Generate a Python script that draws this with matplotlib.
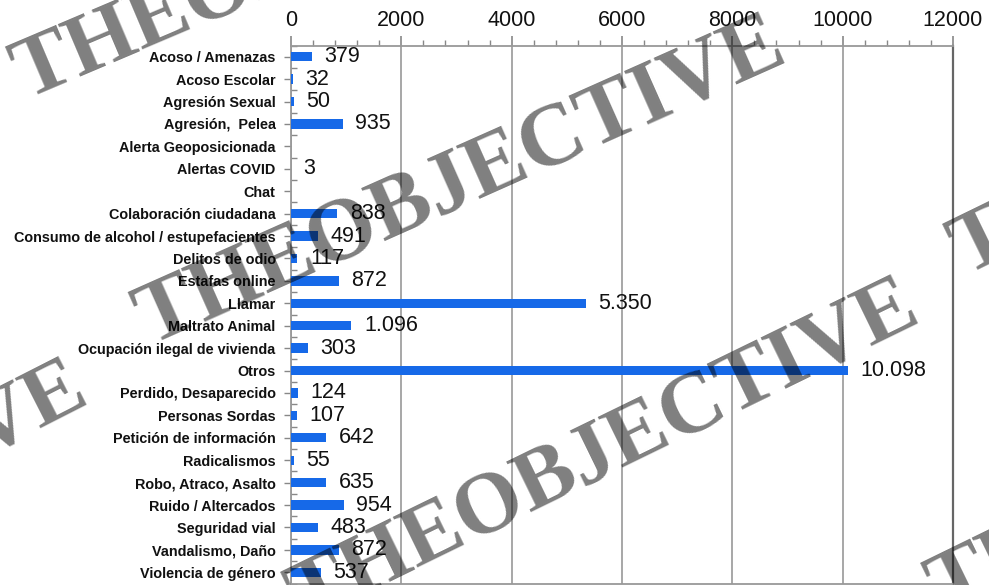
import math
import matplotlib
matplotlib.use("Agg")
import matplotlib.pyplot as plt
from matplotlib.ticker import MultipleLocator, FixedLocator

categories = [
    "Acoso / Amenazas", "Acoso Escolar", "Agresión Sexual", "Agresión,  Pelea",
    "Alerta Geoposicionada", "Alertas COVID", "Chat", "Colaboración ciudadana",
    "Consumo de alcohol / estupefacientes", "Delitos de odio", "Estafas online",
    "Llamar", "Maltrato Animal", "Ocupación ilegal de vivienda", "Otros",
    "Perdido, Desaparecido", "Personas Sordas", "Petición de información",
    "Radicalismos", "Robo, Atraco, Asalto", "Ruido / Altercados",
    "Seguridad vial", "Vandalismo, Daño", "Violencia de género",
]
values = [379, 32, 50, 935, None, 3, None, 838, 491, 117, 872, 5350, 1096,
          303, 10098, 124, 107, 642, 55, 635, 954, 483, 872, 537]
x_ticks = [0, 2000, 4000, 6000, 8000, 10000, 12000]
watermark = "THEOBJECTIVE"

def fmt(v):
    return f"{v:,}".replace(",", ".")

W, H = 989, 585
fig = plt.figure(figsize=(W / 100, H / 100), dpi=100)
top_px, bot_px = 45.5, 583.5
ax = fig.add_axes([291 / W, 1 - bot_px / H, (953 - 291) / W, (bot_px - top_px) / H])

blue = "#1669e8"
ys = list(range(len(categories)))
vals = [v if v is not None else 0 for v in values]
ax.barh(ys, vals, height=0.42, color=blue, zorder=3)
for y, v in zip(ys, values):
    if v is None:
        continue
    ax.annotate(fmt(v), (v, y), xytext=(9, 0), textcoords="offset points",
                ha="left", va="center", fontsize=15.5, family="Liberation Sans",
                color="#111111", zorder=4)

ax.set_xlim(0, 12000)
ax.set_ylim(len(categories) - 0.5, -0.5)
ax.xaxis.tick_top()
ax.set_xticks(x_ticks)
ax.set_xticklabels([str(t) for t in x_ticks], fontsize=15.5,
                   family="Liberation Sans", color="#111111")
ax.xaxis.set_minor_locator(MultipleLocator(400))
ax.tick_params(axis="x", which="major", length=7, width=1.2, color="#888888",
               pad=3.5, direction="out")
ax.tick_params(axis="x", which="minor", length=4, width=1, color="#888888",
               direction="out")
ax.set_yticks(ys)
ax.set_yticklabels(categories, fontsize=10.4, fontweight="bold",
                   family="Liberation Sans", color="#111111")
ax.yaxis.set_minor_locator(FixedLocator([i + 0.5 for i in range(-1, len(categories))]))
ax.tick_params(axis="y", which="major", length=5, width=1, color="#888888",
               pad=6, direction="out")
ax.tick_params(axis="y", which="minor", length=4, width=1, color="#888888",
               direction="in")
ax.grid(axis="x", which="major", color="#a0a0a0", lw=1.3, zorder=0)
for s in ["top", "left", "bottom"]:
    ax.spines[s].set_color("#999999")
    ax.spines[s].set_linewidth(1.3)
ax.spines["right"].set_color("#666666")
ax.spines["right"].set_linewidth(1.6)

# watermark: (start x, start y in px from top-left, angle deg, length px)
renderer = fig.canvas.get_renderer()
probe = fig.text(0, 0, watermark, fontsize=60, fontweight="bold",
                 family="Liberation Serif")
base_w = probe.get_window_extent(renderer).width
probe.remove()
lines = [
    (26, 100, 23, 690),     # top-left
    (150, 346, 24, 700),    # middle
    (-522, 716, 27, 690),   # left "VE"
    (304, 624, 26, 690),    # bottom
    (966, 276, 26, 690),    # right edge
    (944, 615, 26, 690),    # bottom right
]
for (px, py, ang, length) in lines:
    fs = 60 * length / base_w
    fig.text(px / W, 1 - py / H, watermark, rotation=ang, rotation_mode="anchor",
             ha="left", va="baseline", fontsize=fs, fontweight="bold",
             family="Liberation Serif", color="black", alpha=0.5, zorder=10)

fig.savefig("out.png", dpi=100)
